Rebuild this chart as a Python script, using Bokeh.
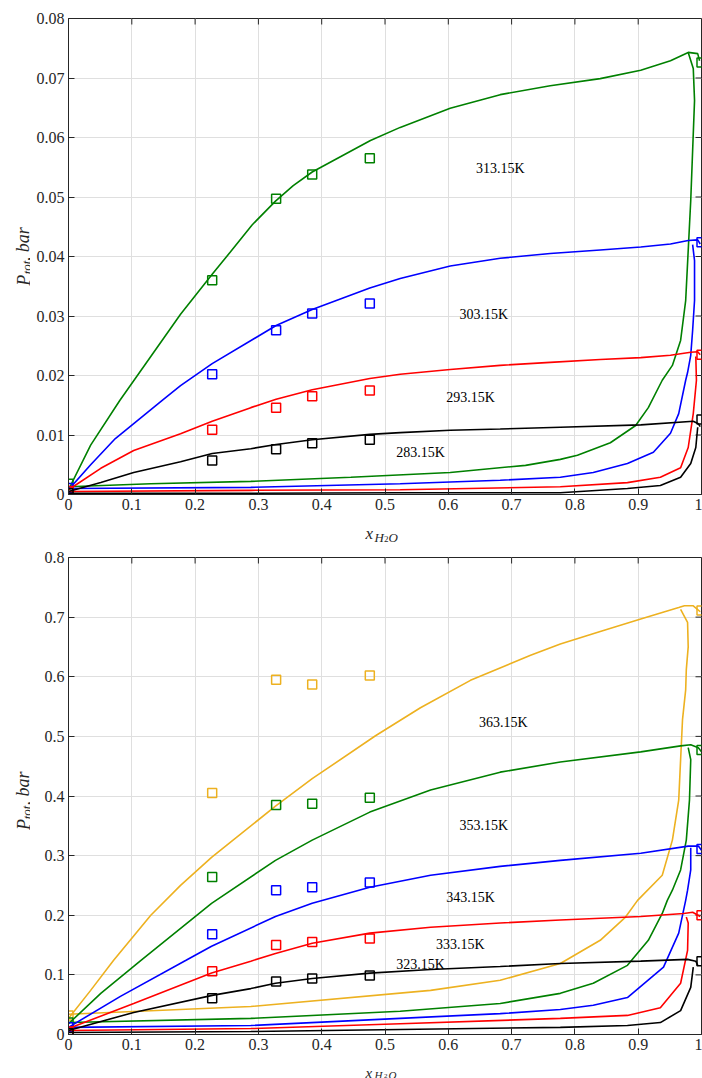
from bokeh.plotting import figure
from bokeh.models import Range1d, FixedTicker, Label
from bokeh.layouts import column, row
from bokeh.embed import file_html
from bokeh.resources import INLINE
from bokeh.core.properties import value

# ---------------- data ----------------
X_TICKS = [0.0, 0.1, 0.2, 0.3, 0.4, 0.5, 0.6, 0.7, 0.8, 0.9, 1.0]
X_TICK_LABELS = ["0", "0.1", "0.2", "0.3", "0.4", "0.5", "0.6", "0.7", "0.8", "0.9", "1"]
TOP_Y_TICKS = [0.0, 0.01, 0.02, 0.03, 0.04, 0.05, 0.06, 0.07, 0.08]
TOP_Y_LABELS = ["0", "0.01", "0.02", "0.03", "0.04", "0.05", "0.06", "0.07", "0.08"]
BOT_Y_TICKS = [0.0, 0.1, 0.2, 0.3, 0.4, 0.5, 0.6, 0.7, 0.8]
BOT_Y_LABELS = ["0", "0.1", "0.2", "0.3", "0.4", "0.5", "0.6", "0.7", "0.8"]

X_MEAS = [0.0, 0.227, 0.328, 0.385, 0.476, 1.0]

# top panel: measured points
t313_m = [0.0018, 0.0360, 0.0497, 0.0538, 0.0565, 0.0726]
t303_m = [0.0011, 0.0202, 0.0276, 0.0304, 0.0321, 0.0424]
t293_m = [0.0006, 0.0109, 0.0146, 0.0165, 0.0175, 0.0235]
t283_m = [0.0002, 0.0057, 0.0076, 0.0086, 0.0092, 0.0126]

# top panel: model curves (bubble + dew)
t313_bx = [0, .035, .081, .130, .177, .227, .256, .290, .327, .355, .385, .477, .524, .603, .682, .761, .840, .904, .951, .979, .994, .997]
t313_by = [.0008, .0083, .0158, .0232, .0303, .0370, .0408, .0453, .0493, .0519, .0542, .0595, .0617, .0649, .0672, .0687, .0699, .0713, .0729, .0743, .0741, .0729]
t313_dx = [.979, .987, .989, .986, .983, .979, .975, .967, .954, .938, .916, .896, .856, .804, .777, .722, .603, .446, .288, .130, 0]
t313_dy = [.0743, .0716, .0662, .0578, .0494, .0410, .0326, .0259, .0217, .0192, .0146, .0116, .0087, .0066, .0059, .0049, .0037, .0029, .0022, .0018, .0013]

t303_bx = [0, .035, .074, .150, .177, .227, .328, .385, .476, .524, .603, .682, .761, .840, .904, .951, .979, .994, .998]
t303_by = [.0008, .0050, .0094, .0160, .0183, .0220, .0284, .0311, .0347, .0363, .0384, .0397, .0405, .0411, .0416, .0421, .0427, .0428, .0421]
t303_dx = [.986, .989, .989, .986, .983, .978, .975, .964, .951, .924, .883, .829, .777, .682, .524, .288, 0]
t303_dy = [.0420, .0393, .0326, .0276, .0234, .0205, .0192, .0136, .0103, .0071, .0052, .0037, .0029, .0024, .0018, .0012, .0010]

t293_bx = [0, .051, .103, .177, .227, .288, .328, .385, .476, .524, .603, .682, .761, .840, .904, .951, .983, .994, .998]
t293_by = [.0008, .0044, .0074, .0102, .0123, .0146, .0160, .0176, .0195, .0202, .0210, .0217, .0222, .0227, .0230, .0234, .0239, .0240, .0235]
t293_dx = [.991, .992, .987, .979, .967, .935, .883, .777, .524, .288, 0]
t293_dy = [.0232, .0192, .0136, .0079, .0045, .0029, .0020, .0013, .0008, .0007, .0005]

t283_bx = [0, .051, .103, .177, .227, .288, .328, .385, .476, .524, .603, .682, .777, .904, .987, .995, .998]
t283_by = [.0005, .0020, .0037, .0055, .0069, .0077, .0084, .0092, .0101, .0104, .0108, .0110, .0113, .0117, .0123, .0119, .0114]
t283_dx = [.994, .991, .983, .967, .935, .883, .777, .524, .288, 0]
t283_dy = [.0113, .0079, .0052, .0029, .0015, .0010, .0003, .0003, .0002, .0002]

# bottom panel: measured points
t363_m = [0.032, 0.405, 0.595, 0.587, 0.602, 0.711]
t353_m = [0.020, 0.264, 0.385, 0.387, 0.397, 0.477]
t343_m = [0.012, 0.168, 0.242, 0.247, 0.255, 0.311]
t333_m = [0.005, 0.106, 0.150, 0.155, 0.161, 0.200]
t323_m = [0.002, 0.061, 0.089, 0.094, 0.099, 0.123]

# bottom panel: model curves
t363_bx = [0, .035, .071, .130, .177, .226, .327, .385, .485, .556, .635, .730, .777, .840, .904, .964, .973, .987, .998]
t363_by = [.027, .074, .124, .200, .250, .297, .383, .429, .501, .548, .594, .636, .655, .676, .697, .716, .719, .719, .709]
t363_dx = [.967, .978, .979, .976, .975, .970, .967, .964, .954, .938, .899, .880, .840, .777, .682, .572, .288, 0]
t363_dy = [.713, .691, .650, .612, .578, .528, .461, .393, .326, .267, .225, .197, .158, .119, .091, .074, .047, .034]

t353_bx = [0, .051, .114, .226, .327, .385, .476, .572, .682, .777, .904, .967, .983, .995, 1.0]
t353_by = [.018, .069, .124, .220, .292, .326, .373, .410, .440, .457, .474, .484, .486, .481, .474]
t353_dx = [.979, .983, .981, .976, .967, .954, .946, .938, .916, .883, .829, .777, .682, .524, .288, 0]
t353_dy = [.481, .461, .393, .326, .276, .242, .225, .203, .158, .116, .086, .069, .052, .039, .027, .020]

t343_bx = [0, .082, .185, .226, .327, .385, .476, .572, .682, .777, .904, .979, .995, 1.0]
t343_by = [.012, .064, .124, .148, .198, .220, .247, .267, .282, .292, .304, .316, .316, .309]
t343_dx = [.983, .983, .978, .975, .964, .940, .883, .829, .777, .682, .524, .288, 0]
t343_dy = [.313, .276, .242, .225, .170, .113, .062, .049, .042, .035, .027, .015, .012]

t333_bx = [0, .103, .226, .288, .327, .385, .476, .572, .682, .777, .904, .972, .986, .998]
t333_by = [.010, .052, .103, .123, .136, .153, .170, .180, .187, .192, .198, .203, .205, .198]
t333_dx = [.976, .979, .978, .967, .935, .883, .777, .524, .288, 0]
t333_dy = [.197, .187, .141, .086, .045, .032, .027, .018, .010, .0067]

t323_bx = [0, .103, .229, .288, .327, .385, .476, .572, .682, .777, .904, .978, .991, .994]
t323_by = [.0067, .037, .066, .077, .086, .094, .103, .109, .114, .119, .123, .126, .123, .116]
t323_dx = [.987, .983, .967, .935, .883, .777, .524, .288, 0]
t323_dy = [.113, .079, .040, .020, .015, .012, .0084, .005, .0034]

TOP_NAMES = ["313.15K", "303.15K", "293.15K", "283.15K"]
TOP_LABEL_X = [0.682, 0.656, 0.635, 0.556]
TOP_LABEL_Y = [0.0548, 0.0303, 0.0163, 0.0071]
BOT_NAMES = ["363.15K", "353.15K", "343.15K", "333.15K", "323.15K"]
BOT_LABEL_X = [0.687, 0.656, 0.635, 0.619, 0.556]
BOT_LABEL_Y = [0.524, 0.350, 0.229, 0.151, 0.118]

GREEN, BLUE, RED, BLACK, ORANGE = "#008000", "#0000ff", "#ff0000", "#000000", "#edb120"
AX = "#262626"
FONT = "Liberation Serif"
YT_W = 30          # width of the y-title strip
FRAME_W = 633
LW = 1.6


def make_fig(ymax, yticks, ylabels, frame_h, b_top, b_bot):
    p = figure(frame_width=FRAME_W, frame_height=frame_h,
               x_range=Range1d(0, 1), y_range=Range1d(0, ymax),
               min_border_left=68 - YT_W, min_border_right=1,
               min_border_top=b_top, min_border_bottom=b_bot,
               output_backend="svg", toolbar_location=None,
               background_fill_color="white", border_fill_color="white")
    p.outline_line_color = AX
    p.outline_line_width = 1
    p.xaxis.ticker = FixedTicker(ticks=X_TICKS)
    p.xaxis.major_label_overrides = dict(zip(X_TICKS, X_TICK_LABELS))
    p.yaxis.ticker = FixedTicker(ticks=yticks)
    p.yaxis.major_label_overrides = dict(zip(yticks, ylabels))
    p.axis.major_tick_in = 6
    p.axis.major_tick_out = 0
    p.axis.minor_tick_in = 0
    p.axis.minor_tick_out = 0
    p.axis.axis_line_color = AX
    p.axis.major_tick_line_color = AX
    p.axis.major_label_text_font = FONT
    p.axis.major_label_text_font_size = "16px"
    p.axis.major_label_text_line_height = 1.0
    p.axis.major_label_text_color = AX
    p.xaxis.major_label_standoff = 4
    p.yaxis.major_label_standoff = 4
    p.xgrid.ticker = FixedTicker(ticks=X_TICKS)
    p.ygrid.ticker = FixedTicker(ticks=yticks)
    p.xgrid.grid_line_color = "#dfdfdf"
    p.ygrid.grid_line_color = "#dfdfdf"
    # inward ticks on the top and right edges of the box
    tl_y = ymax * 6.0 / frame_h
    tl_x = 6.0 / FRAME_W
    n = len(X_TICKS)
    p.segment(x0=X_TICKS, y0=[ymax] * n, x1=X_TICKS, y1=[ymax - tl_y] * n,
              line_color=AX, line_width=1)
    p.segment(x0=[1.0] * len(yticks), y0=yticks, x1=[1.0 - tl_x] * len(yticks),
              y1=yticks, line_color=AX, line_width=1)
    return p


def blank_fig(width, height, xr, yr, bl, br, bt, bb):
    f = figure(frame_width=width - bl - br, frame_height=height - bt - bb,
               x_range=xr, y_range=yr, x_axis_type=None, y_axis_type=None,
               min_border_left=bl, min_border_right=br, min_border_top=bt, min_border_bottom=bb,
               output_backend="svg", toolbar_location=None,
               background_fill_color="white", border_fill_color="white")
    f.outline_line_color = None
    f.grid.visible = False
    return f


def add_series(p, bx, by, dx, dy, m, color):
    p.line(bx, by, line_color=color, line_width=LW)
    p.line(dx, dy, line_color=color, line_width=LW)
    p.scatter(X_MEAS, m, marker="square", size=9, fill_color=None,
              line_color=color, line_width=1.5)


def y_title(yr, frame_h, b_top, b_bot, ys):
    f = blank_fig(YT_W, b_top + frame_h + b_bot, Range1d(0, YT_W), yr, 0, 0, b_top, b_bot)
    common = dict(angle=1.5708, text_font=value(FONT), text_font_style="italic",
                  text_color=AX, text_align="left", text_baseline="alphabetic")
    f.text(x=[23], y=[ys[0]], text=["P"], text_font_size="18px", **common)
    f.text(x=[26.5], y=[ys[1]], text=["tot"], text_font_size="13px", **common)
    f.text(x=[23], y=[ys[2]], text=[", bar"], text_font_size="18px", **common)
    return f


def x_title(xr, height, ys, sizes):
    # strip below a panel for the axis title; y runs downward in pixels
    f = blank_fig(702, height, xr, Range1d(height, 0), 68, 1, 0, 0)
    common = dict(text_font=value(FONT), text_color=AX, text_align="left",
                  text_baseline="alphabetic")
    f.text(x=[0.469], y=[ys[0]], text=["x"], text_font_size=sizes[0],
           text_font_style="italic", **common)
    f.text(x=[0.4834], y=[ys[1]], text=["H"], text_font_size=sizes[1],
           text_font_style="italic", **common)
    f.text(x=[0.4985], y=[ys[2]], text=["2"], text_font_size=sizes[2], **common)
    f.text(x=[0.5055], y=[ys[1]], text=["O"], text_font_size=sizes[1],
           text_font_style="italic", **common)
    return f


def temp_labels(p, names, xs, ys):
    for n, lx, ly in zip(names, xs, ys):
        p.add_layout(Label(x=lx, y=ly, text=n, text_font=FONT, text_font_size="14px",
                           text_align="center", text_baseline="middle", text_color="black"))


# ---------------- top panel ----------------
p1 = make_fig(0.08, TOP_Y_TICKS, TOP_Y_LABELS, 476, 18, 24)
add_series(p1, t313_bx, t313_by, t313_dx, t313_dy, t313_m, GREEN)
add_series(p1, t303_bx, t303_by, t303_dx, t303_dy, t303_m, BLUE)
add_series(p1, t293_bx, t293_by, t293_dx, t293_dy, t293_m, RED)
add_series(p1, t283_bx, t283_by, t283_dx, t283_dy, t283_m, BLACK)
temp_labels(p1, TOP_NAMES, TOP_LABEL_X, TOP_LABEL_Y)
yt1 = y_title(p1.y_range, 476, 18, 24, [0.0351, 0.0370, 0.0392])
xt1 = x_title(p1.x_range, 24, [14.5, 18.5, 20], ["17px", "13px", "9px"])

# ---------------- bottom panel ----------------
p2 = make_fig(0.8, BOT_Y_TICKS, BOT_Y_LABELS, 477, 15, 24)
add_series(p2, t363_bx, t363_by, t363_dx, t363_dy, t363_m, ORANGE)
add_series(p2, t353_bx, t353_by, t353_dx, t353_dy, t353_m, GREEN)
add_series(p2, t343_bx, t343_by, t343_dx, t343_dy, t343_m, BLUE)
add_series(p2, t333_bx, t333_by, t333_dx, t333_dy, t333_m, RED)
add_series(p2, t323_bx, t323_by, t323_dx, t323_dy, t323_m, BLACK)
temp_labels(p2, BOT_NAMES, BOT_LABEL_X, BOT_LABEL_Y)
yt2 = y_title(p2.y_range, 477, 15, 24, [0.343, 0.361, 0.384])
xt2 = x_title(p2.x_range, 20, [14.0, 16.5, 17.5], ["15px", "11px", "7px"])

layout = column(row(yt1, p1), xt1, row(yt2, p2), xt2)
open("out.html", "w").write(file_html(layout, INLINE))
